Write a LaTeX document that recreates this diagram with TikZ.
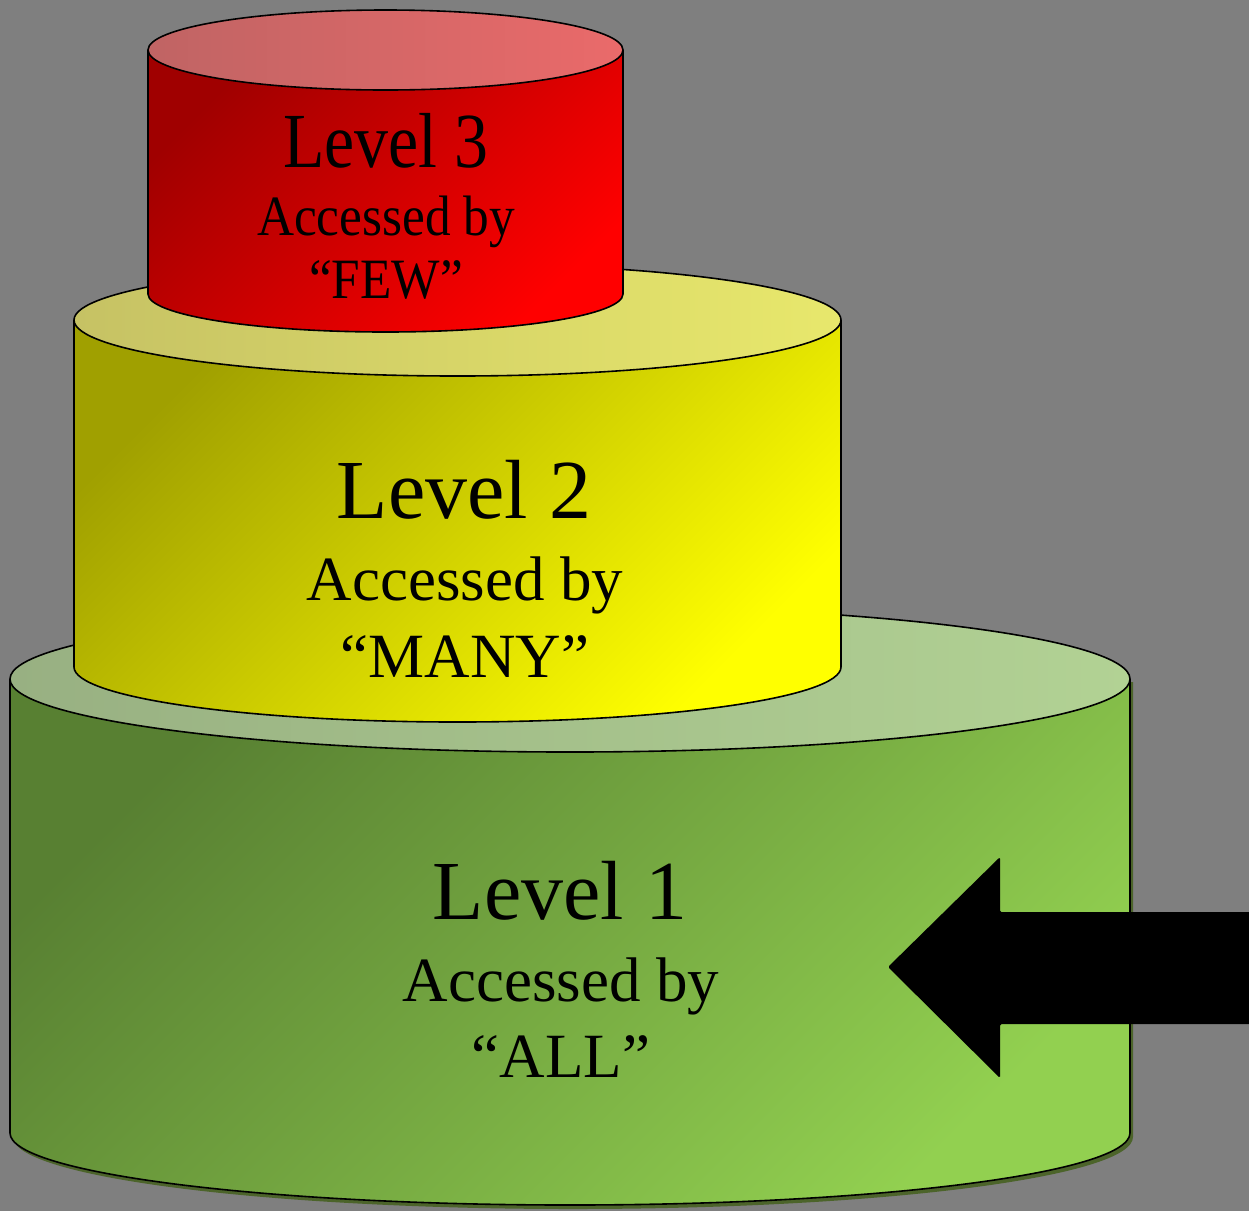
\documentclass[tikz,border=0pt]{standalone}
\usepackage{fontspec}
\setmainfont{Liberation Serif}
\definecolor{bg}{RGB}{127,127,127}
\definecolor{rdA}{RGB}{160,0,0}
\definecolor{rdB}{RGB}{255,0,0}
\definecolor{rtA}{RGB}{192,100,100}
\definecolor{rtB}{RGB}{234,106,106}
\definecolor{ydA}{RGB}{160,160,0}
\definecolor{ydB}{RGB}{255,255,0}
\definecolor{ytA}{RGB}{198,194,100}
\definecolor{ytB}{RGB}{232,232,108}
\definecolor{gdA}{RGB}{88,128,50}
\definecolor{gdB}{RGB}{146,208,80}
\definecolor{gtA}{RGB}{152,176,130}
\definecolor{gtB}{RGB}{178,210,148}
\definecolor{gsh}{RGB}{76,100,42}
\tikzset{
  outl/.style={draw=black, line width=1.6pt},
  lbl/.style={anchor=base, inner sep=0pt, text=black},
}
\begin{document}
\begin{tikzpicture}[x=1pt,y=1pt]
\fill[bg] (0,0) rectangle (1249,-1211);
\useasboundingbox (0,0) rectangle (1249,-1211);
% ---------- green cylinder ----------
\fill[gsh] (13,-682) -- (13,-1137) arc[start angle=180,end angle=360,x radius=560,y radius=72] -- (1133,-682) -- cycle;
\shade[top color=gdA,bottom color=gdB,shading angle=45] (10,-679) -- (10,-1133) arc[start angle=180,end angle=360,x radius=560,y radius=72] -- (1130,-679) -- cycle;
\draw[outl] (10,-679) -- (10,-1133) arc[start angle=180,end angle=360,x radius=560,y radius=72] -- (1130,-679);
\shade[left color=gtA,right color=gtB,outl] (570,-679) ellipse[x radius=560,y radius=73];
% ---------- yellow cylinder ----------
\shade[top color=ydA,bottom color=ydB,shading angle=45] (74,-320) -- (74,-667) arc[start angle=180,end angle=360,x radius=383.5,y radius=55] -- (841,-320) -- cycle;
\draw[outl] (74,-320) -- (74,-667) arc[start angle=180,end angle=360,x radius=383.5,y radius=55] -- (841,-320);
\shade[left color=ytA,right color=ytB,outl] (457.5,-320) ellipse[x radius=383.5,y radius=56];
% ---------- red cylinder ----------
\shade[top color=rdA,bottom color=rdB,shading angle=45] (148,-50) -- (148,-294) arc[start angle=180,end angle=360,x radius=237.5,y radius=38] -- (623,-50) -- cycle;
\draw[outl] (148,-50) -- (148,-294) arc[start angle=180,end angle=360,x radius=237.5,y radius=38] -- (623,-50);
\shade[left color=rtA,right color=rtB,outl] (385.5,-50) ellipse[x radius=237.5,y radius=40];
% ---------- arrow ----------
\fill[black,rounded corners=1.5pt] (888,-967) -- (1000,-857) -- (1000,-912) -- (1260,-912) -- (1260,-1024) -- (1000,-1024) -- (1000,-1078) -- cycle;
% ---------- labels ----------
\node[lbl] (l3a) at (386,-167) {\fontsize{78}{80}\selectfont\scalebox{0.87}[1]{Level 3}};
\node[lbl] (l3b) at (386,-235) {\fontsize{57}{60}\selectfont\scalebox{0.9}[1]{Accessed by}};
\node[lbl] (l3c) at (386,-298) {\fontsize{57}{60}\selectfont\scalebox{0.9}[1]{“FEW”}};
\node[lbl] (l2a) at (464,-518) {\fontsize{84}{86}\selectfont Level 2};
\node[lbl] (l2b) at (465,-600) {\fontsize{63}{66}\selectfont Accessed by};
\node[lbl] (l2c) at (465,-677) {\fontsize{63}{66}\selectfont “MANY”};
\node[lbl] (l1a) at (560,-919) {\fontsize{84}{86}\selectfont Level 1};
\node[lbl] (l1b) at (561,-1001) {\fontsize{63}{66}\selectfont Accessed by};
\node[lbl] (l1c) at (561,-1077) {\fontsize{63}{66}\selectfont “ALL”};
\end{tikzpicture}
\end{document}
